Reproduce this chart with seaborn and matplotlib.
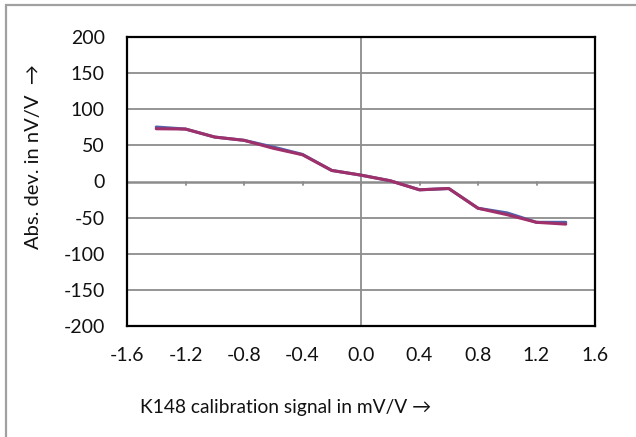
import matplotlib
matplotlib.use("Agg")
import matplotlib.pyplot as plt
import seaborn as sns
import pandas as pd
from matplotlib.patches import Rectangle

# Calibration signal (mV/V) and absolute deviation (nV/V) for the two runs
signal = [-1.4, -1.2, -1.0, -0.8, -0.6, -0.4, -0.2, 0.0, 0.2, 0.4, 0.6, 0.8, 1.0, 1.2, 1.4]
dev_run1 = [75.4, 72.6, 61.5, 57.0, 47.7, 37.5, 15.3, 8.8, 1.0, -11.5, -9.7, -37.0, -43.5, -56.5, -56.5]
dev_run2 = [73.0, 72.6, 61.5, 57.0, 46.0, 37.0, 15.3, 8.8, 1.0, -11.5, -9.7, -37.0, -46.0, -56.5, -59.0]

x_ticks = [-1.6, -1.2, -0.8, -0.4, 0.0, 0.4, 0.8, 1.2, 1.6]
y_ticks = [-200, -150, -100, -50, 0, 50, 100, 150, 200]

df = pd.DataFrame({
    "signal": signal * 2,
    "dev": dev_run1 + dev_run2,
    "run": ["run1"] * len(signal) + ["run2"] * len(signal),
})

sns.set_theme(style="white")
plt.rcParams["font.family"] = ["Lato", "DejaVu Sans"]

fig = plt.figure(figsize=(6.36, 4.37), dpi=100)
ax = fig.add_axes([127 / 636, 1 - 326 / 437, (595 - 127) / 636, (326 - 37) / 437])

# outer chart frame (left and top edges visible)
fig.patches.append(Rectangle((6 / 636, -0.1), 1.2, (437 - 5) / 437 + 0.1,
                             transform=fig.transFigure, fill=False,
                             edgecolor="#a0a0a0", linewidth=1.6, zorder=0))

# horizontal gridlines
for v in y_ticks:
    if v in (-200, 200, 0):
        continue
    ax.axhline(v, color="#8c8c8c", linewidth=1.3, zorder=1)

# zero axes drawn through the plot
ax.axhline(0, color="#8c8c8c", linewidth=1.8, zorder=1)
ax.axvline(0, color="#8c8c8c", linewidth=1.3, zorder=1)
for t in x_ticks[1:-1]:
    ax.plot([t, t], [0, -4.5], color="#8c8c8c", linewidth=1.3, zorder=1)

sns.lineplot(data=df, x="signal", y="dev", hue="run",
             palette={"run1": "#5162aa", "run2": "#a0306a"},
             linewidth=2.2, legend=False, ax=ax, zorder=3)

ax.set_xlim(-1.6, 1.6)
ax.set_ylim(-200, 200)
ax.set_xticks(x_ticks)
ax.set_xticklabels([f"{t:.1f}" for t in x_ticks])
ax.set_yticks(y_ticks)
ax.set_yticklabels([str(t) for t in y_ticks])
ax.tick_params(axis="both", length=0, labelsize=14, colors="#111111")
ax.tick_params(axis="y", pad=16)
ax.tick_params(axis="x", pad=15)
ax.set_xlabel("")
ax.set_ylabel("")
for s in ax.spines.values():
    s.set_visible(True)
    s.set_color("black")
    s.set_linewidth(1.6)

fig.text(286 / 636, 1 - 407 / 437, "K148 calibration signal in mV/V \u2192",
         ha="center", va="center", fontsize=13.8, color="#111111")
fig.text(34 / 636, 1 - 157 / 437, "Abs. dev. in nV/V  \u2192",
         ha="center", va="center", rotation=90, fontsize=14.5, color="#111111")

fig.savefig("out.png", dpi=100, facecolor="white")
